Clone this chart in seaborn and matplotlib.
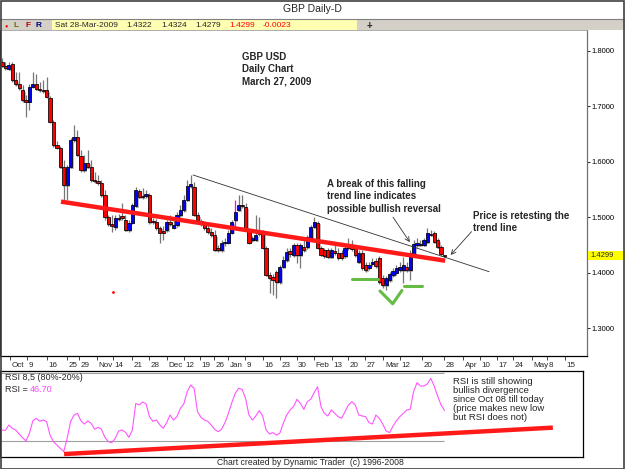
import matplotlib
matplotlib.use("Agg")
import matplotlib.pyplot as plt
import matplotlib.transforms as mtransforms
from matplotlib.patches import Rectangle
import numpy as np
import pandas as pd
import seaborn as sns

# ---------------- data ----------------
opens = [1.780, 1.772, 1.767, 1.776, 1.747, 1.740, 1.729, 1.711, 1.708, 1.735,
         1.740, 1.731, 1.729, 1.729, 1.715, 1.672, 1.630, 1.625, 1.590, 1.558,
         1.590, 1.639, 1.645, 1.610, 1.585, 1.598, 1.590, 1.567, 1.565, 1.562,
         1.540, 1.500, 1.488, 1.482, 1.499, 1.502, 1.495, 1.477, 1.490, 1.520,
         1.547, 1.538, 1.538, 1.540, 1.493, 1.491, 1.481, 1.475, 1.477, 1.491,
         1.481, 1.486, 1.504, 1.513, 1.531, 1.556, 1.554, 1.504, 1.493, 1.488,
         1.481, 1.473, 1.468, 1.445, 1.441, 1.454, 1.454, 1.472, 1.495, 1.513,
         1.522, 1.518, 1.477, 1.459, 1.459, 1.470, 1.473, 1.445, 1.396, 1.392,
         1.401, 1.383, 1.410, 1.423, 1.439, 1.432, 1.450, 1.432, 1.446, 1.446,
         1.463, 1.482, 1.490, 1.445, 1.441, 1.441, 1.428, 1.439, 1.436, 1.436,
         1.430, 1.445, 1.446, 1.445, 1.419, 1.436, 1.414, 1.409, 1.416, 1.421,
         1.427, 1.390, 1.378, 1.387, 1.396, 1.400, 1.405, 1.405, 1.410, 1.405,
         1.432, 1.450, 1.452, 1.450, 1.455, 1.470, 1.472, 1.459, 1.446, 1.4322]
highs = [1.787, 1.780, 1.780, 1.780, 1.762, 1.762, 1.738, 1.720, 1.740, 1.762,
         1.758, 1.744, 1.747, 1.753, 1.718, 1.675, 1.637, 1.628, 1.603, 1.594,
         1.643, 1.666, 1.657, 1.621, 1.612, 1.621, 1.603, 1.581, 1.576, 1.567,
         1.549, 1.504, 1.504, 1.504, 1.506, 1.526, 1.504, 1.495, 1.526, 1.554,
         1.551, 1.553, 1.549, 1.544, 1.499, 1.497, 1.484, 1.484, 1.495, 1.504,
         1.499, 1.509, 1.522, 1.540, 1.567, 1.576, 1.563, 1.509, 1.497, 1.491,
         1.486, 1.481, 1.477, 1.450, 1.459, 1.463, 1.477, 1.495, 1.531, 1.540,
         1.540, 1.526, 1.481, 1.466, 1.504, 1.500, 1.477, 1.448, 1.401, 1.398,
         1.405, 1.414, 1.430, 1.445, 1.445, 1.454, 1.454, 1.454, 1.459, 1.468,
         1.486, 1.500, 1.493, 1.448, 1.445, 1.445, 1.445, 1.450, 1.445, 1.441,
         1.450, 1.463, 1.459, 1.450, 1.441, 1.441, 1.419, 1.419, 1.427, 1.427,
         1.430, 1.396, 1.394, 1.401, 1.409, 1.414, 1.419, 1.428, 1.419, 1.441,
         1.459, 1.463, 1.459, 1.463, 1.481, 1.477, 1.475, 1.463, 1.450, 1.4324]
lows = [1.771, 1.765, 1.765, 1.744, 1.736, 1.729, 1.708, 1.681, 1.693, 1.733,
        1.729, 1.726, 1.724, 1.715, 1.670, 1.627, 1.623, 1.589, 1.531, 1.531,
        1.589, 1.636, 1.610, 1.581, 1.581, 1.589, 1.563, 1.562, 1.558, 1.536,
        1.495, 1.484, 1.473, 1.477, 1.493, 1.495, 1.475, 1.473, 1.488, 1.518,
        1.535, 1.533, 1.535, 1.488, 1.488, 1.477, 1.454, 1.459, 1.473, 1.484,
        1.479, 1.482, 1.500, 1.509, 1.529, 1.553, 1.502, 1.491, 1.484, 1.477,
        1.470, 1.464, 1.439, 1.437, 1.437, 1.448, 1.452, 1.470, 1.482, 1.511,
        1.517, 1.475, 1.452, 1.455, 1.457, 1.466, 1.443, 1.394, 1.363, 1.360,
        1.354, 1.380, 1.409, 1.419, 1.428, 1.428, 1.418, 1.409, 1.437, 1.443,
        1.461, 1.481, 1.443, 1.430, 1.427, 1.427, 1.427, 1.432, 1.423, 1.423,
        1.427, 1.441, 1.439, 1.428, 1.418, 1.405, 1.401, 1.405, 1.412, 1.409,
        1.380, 1.372, 1.369, 1.383, 1.392, 1.396, 1.401, 1.381, 1.401, 1.387,
        1.430, 1.446, 1.448, 1.448, 1.454, 1.466, 1.454, 1.445, 1.430, 1.4279]
closes = [1.772, 1.769, 1.774, 1.747, 1.740, 1.733, 1.711, 1.708, 1.735, 1.740,
          1.731, 1.729, 1.727, 1.717, 1.672, 1.630, 1.625, 1.590, 1.558, 1.590,
          1.639, 1.645, 1.612, 1.585, 1.598, 1.590, 1.567, 1.565, 1.562, 1.540,
          1.500, 1.488, 1.484, 1.499, 1.497, 1.499, 1.477, 1.490, 1.522, 1.549,
          1.536, 1.536, 1.542, 1.491, 1.491, 1.481, 1.472, 1.472, 1.491, 1.488,
          1.486, 1.504, 1.513, 1.531, 1.556, 1.560, 1.504, 1.495, 1.488, 1.481,
          1.473, 1.468, 1.441, 1.441, 1.454, 1.455, 1.472, 1.491, 1.509, 1.522,
          1.520, 1.477, 1.454, 1.463, 1.468, 1.472, 1.445, 1.396, 1.390, 1.387,
          1.383, 1.410, 1.423, 1.437, 1.434, 1.450, 1.432, 1.450, 1.441, 1.464,
          1.482, 1.491, 1.445, 1.432, 1.430, 1.428, 1.441, 1.436, 1.427, 1.427,
          1.445, 1.446, 1.443, 1.432, 1.436, 1.409, 1.405, 1.414, 1.419, 1.412,
          1.383, 1.378, 1.390, 1.398, 1.403, 1.409, 1.410, 1.414, 1.405, 1.436,
          1.452, 1.454, 1.450, 1.459, 1.472, 1.468, 1.455, 1.446, 1.434, 1.4299]
rsi = [29.4, 29.1, 33.8, 30.9, 29.4, 25.9, 22.6, 19.7, 26.5, 37.6,
       39.7, 37.1, 38.2, 36.8, 25.0, 19.1, 16.2, 13.2, 10.3, 22.1,
       36.8, 42.6, 44.1, 37.6, 34.7, 37.4, 35.3, 30.0, 31.8, 30.0,
       22.9, 19.1, 18.2, 22.1, 28.5, 29.4, 27.4, 22.9, 29.4, 52.9,
       51.5, 54.1, 52.4, 41.2, 37.1, 38.2, 34.1, 30.9, 35.9, 42.6,
       38.2, 41.2, 48.5, 52.4, 63.2, 69.1, 66.2, 45.6, 40.6, 38.2,
       37.1, 33.8, 30.0, 27.9, 30.0, 35.9, 44.1, 53.5, 61.8, 66.2,
       65.3, 57.4, 42.6, 38.2, 41.8, 46.5, 41.8, 29.4, 25.9, 27.1,
       25.0, 26.5, 35.3, 42.6, 47.1, 50.0, 56.5, 52.9, 47.6, 54.4,
       56.5, 62.4, 67.6, 50.0, 44.1, 41.8, 47.1, 44.1, 41.2, 39.7,
       45.6, 51.5, 54.4, 51.5, 42.6, 41.8, 41.2, 35.9, 34.7, 42.6,
       39.7, 34.7, 28.5, 27.1, 32.9, 37.6, 41.2, 44.1, 47.1, 47.6,
       63.2, 71.2, 68.2, 68.2, 70.0, 75.0, 68.2, 59.4, 51.5, 46.70]
highlight_bar = 68          # bar drawn with a magenta wick

price_ticks = [1.3, 1.4, 1.5, 1.6, 1.7, 1.8]
date_tick_pos = [2.3, 7.2, 13.0, 18.9, 22.4, 27.6, 32.4, 37.8, 42.9, 48.0,
                 53.1, 57.7, 61.8, 66.0, 70.8, 76.2, 81.1, 85.9, 91.0, 96.1,
                 101.0, 105.8, 111.2, 116.0, 122.4, 128.8, 134.5, 139.4, 144.2,
                 149.1, 154.4, 158.8, 164.1]
date_tick_labels = ["Oct", "9", "16", "25", "29", "Nov", "14", "21", "28", "Dec",
                    "12", "19", "26", "Jan", "9", "16", "23", "30", "Feb", "13",
                    "20", "27", "Mar", "12", "20", "28", "Apr", "10", "17", "24",
                    "May", "8", "15"]

# annotation geometry (bar index, price / rsi)
red_tl_x, red_tl_y = [17.2, 129.2], [1.528, 1.4216]
thin_tl_x, thin_tl_y = [55.7, 142.0], [1.576, 1.4018]
rsi_tl_x, rsi_tl_y = [18.1, 160.6], [8.2, 31.5]
green_left_x, green_left_y = [102.0, 109.6], [1.3886, 1.3886]
green_right_x, green_right_y = [117.2, 122.4], [1.376, 1.376]
green_v_x, green_v_y = [110.2, 113.9, 116.6], [1.367, 1.344, 1.368]
dot_x, dot_y = [32.4], [1.365]
arrow1_from, arrow1_to = (114.0, 1.500), (118.9, 1.455)
arrow2_from, arrow2_to = (136.9, 1.474), (130.8, 1.432)

# ---------------- figure ----------------
W, H, DPI = 625, 469, 100
sns.set_style("white")
plt.rcParams['font.family'] = ['Liberation Sans', 'DejaVu Sans']

fig = plt.figure(figsize=(W / DPI, H / DPI), dpi=DPI, facecolor='white')


def frect(x0, y0, x1, y1):
    return [x0 / W, 1 - y1 / H, (x1 - x0) / W, (y1 - y0) / H]


def fx(x):
    return x / W


def fy(y):
    return 1 - y / H


# window chrome
fig.patches.append(Rectangle((0, fy(30)), 1, (30 - 19) / H, transform=fig.transFigure,
                             facecolor='#D4D0C8', edgecolor='none', zorder=0))
fig.patches.append(Rectangle((fx(52), fy(30)), (357 - 52) / W, (30 - 20) / H,
                             transform=fig.transFigure, facecolor='#FFFFB4',
                             edgecolor='none', zorder=0))
fig.add_artist(plt.Line2D([0, 1], [fy(19), fy(19)], transform=fig.transFigure,
                          color='#808080', lw=0.8))
fig.patches.append(Rectangle((0.001, 0.001), 0.998, 0.997, transform=fig.transFigure,
                             facecolor='none', edgecolor='#404040', lw=1.2, zorder=10))
fig.text(0.5, fy(9), "GBP Daily-D", ha='center', va='center', fontsize=7.5)
fig.text(fx(6), fy(25.5), "\u25cf", color='#FF0000', fontsize=4, ha='center', va='center')
fig.text(fx(16), fy(25.5), "L", color='#6B6B00', fontsize=6, ha='center', va='center',
         weight='bold')
fig.text(fx(28), fy(25.5), "F", color='#B00000', fontsize=6, ha='center', va='center',
         weight='bold')
fig.text(fx(38), fy(25.5), "R", color='#000080', fontsize=6, ha='center', va='center',
         weight='bold')
fig.text(fx(55), fy(25.5), "Sat 28-Mar-2009", fontsize=6, va='center')
fig.text(fx(126), fy(25.5), "1.4322", fontsize=6, va='center')
fig.text(fx(161), fy(25.5), "1.4324", fontsize=6, va='center')
fig.text(fx(195), fy(25.5), "1.4279", fontsize=6, va='center')
fig.text(fx(229), fy(25.5), "1.4299", fontsize=6, va='center', color='#FF0000')
fig.text(fx(263), fy(25.5), "-0.0023", fontsize=6, va='center', color='#FF0000')
fig.text(fx(369), fy(25.5), "+", fontsize=7, va='center', ha='center', weight='bold')

# ---------------- main price panel ----------------
ax = fig.add_axes(frect(0, 30, 587, 356))
df = pd.DataFrame(dict(i=np.arange(len(closes)), open=opens, high=highs,
                       low=lows, close=closes, rsi=rsi))
up = df['close'] >= df['open']
body_bottom = np.minimum(df['open'], df['close'])
body_h = np.maximum((df['close'] - df['open']).abs(), 0.0014)
wick_cols = ['#FF00FF' if i == highlight_bar else '#777777' for i in df['i']]

ax.bar(df['i'] + 0.4, body_h, bottom=body_bottom - 0.003, width=0.95,
       color='#BDBDBD', linewidth=0, zorder=2)
ax.vlines(df['i'], df['low'], df['high'], colors=wick_cols, lw=0.9, zorder=2.5)
ax.bar(df['i'], body_h, bottom=body_bottom, width=0.95,
       color=np.where(up, '#0000FF', '#FF0000'), edgecolor='black',
       linewidth=0.55, zorder=3)

ax.plot(thin_tl_x, thin_tl_y, color='#303030', lw=0.6, zorder=4)
ax.plot(red_tl_x, red_tl_y, color='#FF1A1A', lw=3.2, solid_capstyle='butt', zorder=4)
for gx, gy in [(green_left_x, green_left_y), (green_right_x, green_right_y),
               (green_v_x, green_v_y)]:
    ax.plot(gx, gy, color='#66BB44', lw=2.2, zorder=4)
sns.scatterplot(x=dot_x, y=dot_y, ax=ax, color='#FF0000', s=4, linewidth=0, zorder=4)
for a_from, a_to in [(arrow1_from, arrow1_to), (arrow2_from, arrow2_to)]:
    ax.annotate('', xy=a_to, xytext=a_from,
                arrowprops=dict(arrowstyle='->', lw=0.6, color='#333333',
                                shrinkA=0, shrinkB=0, mutation_scale=8), zorder=5)

ax.set_xlim(-0.583, 170.55)
ax.set_ylim(1.2499, 1.8372)
ax.yaxis.tick_right()
ax.set_yticks(price_ticks)
ax.set_yticklabels([f"{v:.4f}" for v in price_ticks])
ax.tick_params(axis='y', which='both', direction='out', length=2, width=0.6,
               labelsize=5.5, pad=1, colors='#000000', right=True, left=False)
ax.set_xticks(date_tick_pos)
ax.set_xticklabels(date_tick_labels)
ax.tick_params(axis='x', which='both', direction='out', length=3, width=0.6,
               labelsize=5.8, pad=1.5, bottom=True)
offset = mtransforms.ScaledTranslation(1.5 / DPI, 0, fig.dpi_scale_trans)
for lbl in ax.get_xticklabels():
    lbl.set_horizontalalignment('left')
    lbl.set_transform(lbl.get_transform() + offset)
ax.set_xlabel('')
ax.set_ylabel('')
for side in ['left', 'bottom']:
    ax.spines[side].set_color('#000000')
    ax.spines[side].set_linewidth(0.9)
ax.spines['right'].set_color('#707070')
ax.spines['right'].set_linewidth(0.9)
ax.spines['top'].set_color('#A0A0A0')
ax.spines['top'].set_linewidth(0.6)

# current price tag
fig.patches.append(Rectangle((fx(588), fy(259.5)), (625 - 588) / W, 9 / H,
                             transform=fig.transFigure, facecolor='#FFFF00',
                             edgecolor='none', zorder=6))
fig.text(fx(590), fy(255), "1.4299", fontsize=5.5, va='center', zorder=7)

# main annotations
fig.text(fx(242), fy(52), "GBP USD\nDaily Chart\nMarch 27, 2009", fontsize=7,
         weight='bold', va='top', linespacing=1.3)
fig.text(fx(327), fy(179), "A break of this falling\ntrend line indicates\npossible bullish reversal",
         fontsize=7, weight='bold', va='top', linespacing=1.3)
fig.text(fx(473), fy(211), "Price is retesting the\ntrend line", fontsize=7,
         weight='bold', va='top', linespacing=1.3)

# ---------------- RSI panel ----------------
ax2 = fig.add_axes(frect(0, 371, 583, 457))
ax2.hlines([80, 20], -0.583, 129, color='#A0A0A0', lw=0.8, zorder=1)
sns.lineplot(data=df, x='i', y='rsi', ax=ax2, color='#FF55FF', lw=0.8, zorder=3)
ax2.plot(rsi_tl_x, rsi_tl_y, color='#FF1A1A', lw=3.2, solid_capstyle='butt', zorder=4)
ax2.set_xlim(-0.583, (583 - 2) / 3.43)
ax2.set_ylim(5.59, 81.47)
ax2.set_xticks([])
ax2.set_yticks([])
ax2.set_xlabel('')
ax2.set_ylabel('')
for s in ax2.spines.values():
    s.set_color('#000000')
    s.set_linewidth(0.9)

fig.text(fx(5), fy(377), "RSI 8,5 (80%-20%)", fontsize=6.5, va='center')
fig.text(fx(5), fy(389), "RSI =", fontsize=6.5, va='center')
fig.text(fx(30), fy(389), "46.70", fontsize=6.5, va='center', color='#FF44FF')
fig.text(fx(453), fy(377), "RSI is still showing\nbullish divergence\nsince Oct 08 till today\n(price makes new low\nbut RSI does not)",
         fontsize=6.8, va='top', linespacing=1.0)

fig.text(0.497, fy(462.5), "Chart created by Dynamic Trader  (c) 1996-2008",
         fontsize=6.2, ha='center', va='center')

fig.savefig("out.png", dpi=DPI, facecolor='white')
